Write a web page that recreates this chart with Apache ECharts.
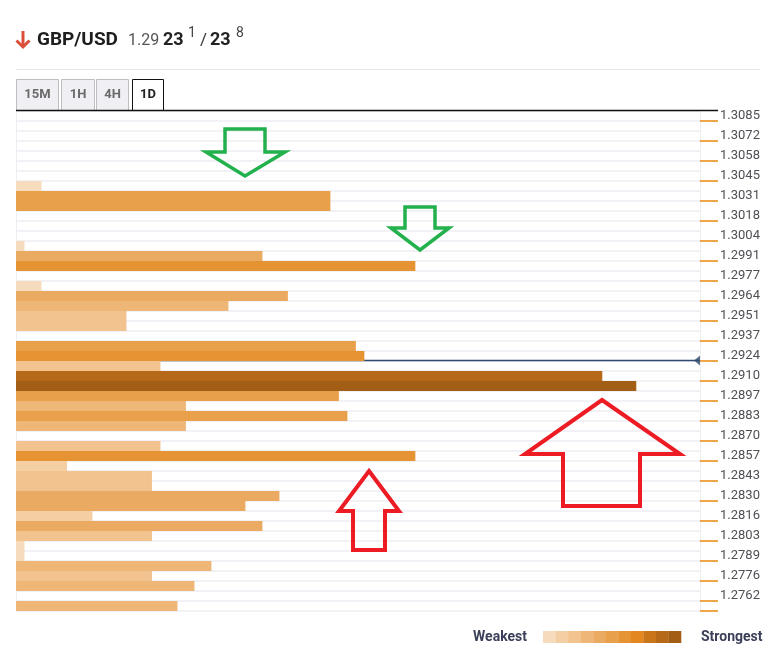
<!DOCTYPE html>
<html><head><meta charset="utf-8">
<script src="https://cdn.jsdelivr.net/npm/echarts@6/dist/echarts.min.js"></script>
<style>html,body{margin:0;padding:0;background:#fff}#c{width:772px;height:658px}</style>
</head><body><div id="c"></div><script>
// ---- data ----
const pair = 'GBP/USD';
const bidBig = '1.29', bidPips = '23', bidFrac = '1';
const askPips = '23', askFrac = '8';
const currentPrice = 1.29231;
const timeframes = ['15M', '1H', '4H', '1D'];
const activeFrame = '1D';
const tickLabels = ['1.3085','1.3072','1.3058','1.3045','1.3031','1.3018','1.3004','1.2991','1.2977','1.2964',
  '1.2951','1.2937','1.2924','1.2910','1.2897','1.2883','1.2870','1.2857','1.2843','1.2830',
  '1.2816','1.2803','1.2789','1.2776','1.2762'];
// confluence strength per price row, top (high price) to bottom
const strength = [0,0,0,0,0,0,0,3,37,37,
  0,0,0,1,29,47,0,3,32,25,
  13,13,0,40,41,17,69,73,38,20,
  39,20,0,17,47,6,16,16,31,27,
  9,29,16,1,1,23,16,21,0,19];
const legendText = ['Weakest', 'Strongest'];

// ---- derived ----
const X_MAX = 80.5;
const rows = strength.map((_, i) => i);
const maxS = Math.max(...strength);
const firstP = parseFloat(tickLabels[0]), lastP = parseFloat(tickLabels[tickLabels.length - 1]);
const rowStep = (firstP - lastP) / (2 * (tickLabels.length - 1));
const levelColors = ['#F6DCBC','#F4CFA4','#F2C38E','#EEB677','#EBAA62','#E8A04B','#E69334','#E3881E','#C9761B','#B66A19','#A15E14'];
const pieces = levelColors.map((c, k) => {
  const p = { color: c };
  p.gte = k === 0 ? 0 : (k - 0.5) * maxS / 10;
  if (k < levelColors.length - 1) p.lt = (k + 0.5) * maxS / 10;
  return p;
});

const FONT = 'Roboto, "Noto Sans", sans-serif';
const graphics = [];
// header arrow
graphics.push({ type: 'polyline', z: 100, shape: { points: [[23, 31], [23, 47]] }, style: { stroke: '#DA4E3A', lineWidth: 3, fill: 'none' } });
graphics.push({ type: 'polyline', z: 100, shape: { points: [[16.5, 40.5], [23, 47], [29.5, 40.5]] }, style: { stroke: '#DA4E3A', lineWidth: 3, fill: 'none' } });
graphics.push({ type: 'text', z: 100, x: 37, y: 40, style: { text: pair, font: 'bold 19px ' + FONT, fill: '#1E1E1E', verticalAlign: 'middle' } });
graphics.push({ type: 'text', z: 100, x: 128, y: 41, style: { text: bidBig, font: '16px ' + FONT, fill: '#555', verticalAlign: 'middle' } });
graphics.push({ type: 'text', z: 100, x: 163, y: 40, style: { text: bidPips, font: 'bold 18px ' + FONT, fill: '#222', verticalAlign: 'middle' } });
graphics.push({ type: 'text', z: 100, x: 188, y: 33, style: { text: bidFrac, font: '14px ' + FONT, fill: '#444', verticalAlign: 'middle' } });
graphics.push({ type: 'text', z: 100, x: 200, y: 41, style: { text: '/', font: '17px ' + FONT, fill: '#333', verticalAlign: 'middle' } });
graphics.push({ type: 'text', z: 100, x: 210, y: 40, style: { text: askPips, font: 'bold 18px ' + FONT, fill: '#222', verticalAlign: 'middle' } });
graphics.push({ type: 'text', z: 100, x: 236, y: 33, style: { text: askFrac, font: '14px ' + FONT, fill: '#444', verticalAlign: 'middle' } });
// separator
graphics.push({ type: 'line', z: 100, shape: { x1: 16, y1: 69.5, x2: 760, y2: 69.5 }, style: { stroke: '#E8E8EC', lineWidth: 1 } });
// tabs
const tabBoxes = [[16, 42], [61, 33], [96, 32], [132, 31]];
timeframes.forEach((t, i) => {
  const act = t === activeFrame;
  const [x, w] = tabBoxes[i];
  graphics.push({ type: 'rect', z: 100, shape: { x: x + 0.5, y: 79.5, width: w, height: 31 },
    style: { fill: act ? '#FFFFFF' : '#F0F0F4', stroke: act ? '#111' : '#BDBDC2', lineWidth: 1 } });
  graphics.push({ type: 'text', z: 101, x: x + w / 2 + 0.5, y: 95, style: { text: t, font: 'bold 13px ' + FONT, fill: act ? '#222' : '#6A6A6A', align: 'center', verticalAlign: 'middle' } });
});
graphics.push({ type: 'line', z: 102, shape: { x1: 16, y1: 110.5, x2: 718, y2: 110.5 }, style: { stroke: '#111', lineWidth: 1.5 } });
// annotation arrows
const green = '#22B14C', red = '#ED1C24';
[[[225,129],[265,129],[265,152],[285,152],[245,176],[206,152],[225,152]],
 [[405,207],[435,207],[435,228],[449,228],[420,250],[391,228],[405,228]]].forEach(pts => {
  graphics.push({ type: 'polygon', z: 110, shape: { points: pts }, style: { fill: 'none', stroke: green, lineWidth: 3.5, lineJoin: 'miter' } });
});
[[[602,400],[680,454],[640,454],[640,506],[563,506],[563,454],[525,454]],
 [[369,471],[399,511],[385,511],[385,550],[353,550],[353,511],[339,511]]].forEach(pts => {
  graphics.push({ type: 'polygon', z: 110, shape: { points: pts }, style: { fill: 'none', stroke: red, lineWidth: 4, lineJoin: 'miter' } });
});
// legend
graphics.push({ type: 'text', z: 100, x: 527, y: 637, style: { text: legendText[0], font: 'bold 14px ' + FONT, fill: '#3B3F58', align: 'right', verticalAlign: 'middle' } });
graphics.push({ type: 'text', z: 100, x: 701, y: 637, style: { text: legendText[1], font: 'bold 14px ' + FONT, fill: '#3B3F58', align: 'left', verticalAlign: 'middle' } });
levelColors.forEach((c, k) => {
  graphics.push({ type: 'rect', z: 100, shape: { x: 543 + k * 12.55, y: 631, width: 12.8, height: 12 }, style: { fill: c } });
});

const chart = echarts.init(document.getElementById('c'), null, { renderer: 'canvas' });
chart.setOption({
  animation: false,
  backgroundColor: '#fff',
  textStyle: { fontFamily: FONT },
  grid: { left: 16, right: 72, top: 111, bottom: 47 },
  xAxis: { type: 'value', min: 0, max: X_MAX, show: false },
  yAxis: [{
    type: 'category', position: 'right', inverse: true, data: rows,
    axisLine: { show: true, onZero: false, lineStyle: { color: '#EDEDF2', width: 1 } },
    axisTick: { show: true, length: 18, lineStyle: { color: '#E8890F', width: 1.5 }, interval: (i) => i % 2 === 1 },
    axisLabel: { interval: 0, margin: 20, fontSize: 13, color: '#4F4F55', fontFamily: FONT,
      formatter: (v, i) => (i % 2 === 0 ? tickLabels[i / 2] : '') },
    splitLine: { show: true, interval: 0, lineStyle: { color: '#F1F1F6', width: 2 } }
  }, {
    // price scale: each label price sits just above the lower edge of its row
    type: 'value', position: 'left', min: lastP - 1.1 * rowStep, max: firstP + 0.9 * rowStep, alignTicks: false,
    axisLine: { show: true, onZero: false, lineStyle: { color: '#EDEDF2', width: 1 } },
    axisTick: { show: false }, axisLabel: { show: false }, splitLine: { show: false }
  }],
  visualMap: {
    type: 'piecewise', show: false, seriesIndex: 0, dimension: 0, pieces: pieces
  },
  series: [{
    type: 'bar', z: 3, xAxisIndex: 0, yAxisIndex: 0,
    data: strength.map((v, i) => [v, i]), encode: { x: 0, y: 1 },
    barCategoryGap: '0%', silent: true
  }, {
    type: 'line', xAxisIndex: 0, yAxisIndex: 1, z: 1, silent: true,
    data: [[0, currentPrice], [X_MAX, currentPrice]],
    symbol: 'none', lineStyle: { color: '#2E4A6E', width: 1.5 }
  }, {
    type: 'scatter', xAxisIndex: 0, yAxisIndex: 1, z: 4, silent: true,
    data: [[X_MAX, currentPrice]],
    symbol: 'triangle', symbolRotate: 90, symbolSize: [10, 6], symbolOffset: [-3, 0],
    itemStyle: { color: '#2E4A6E' }
  }],
  graphic: graphics
});
</script></body></html>
